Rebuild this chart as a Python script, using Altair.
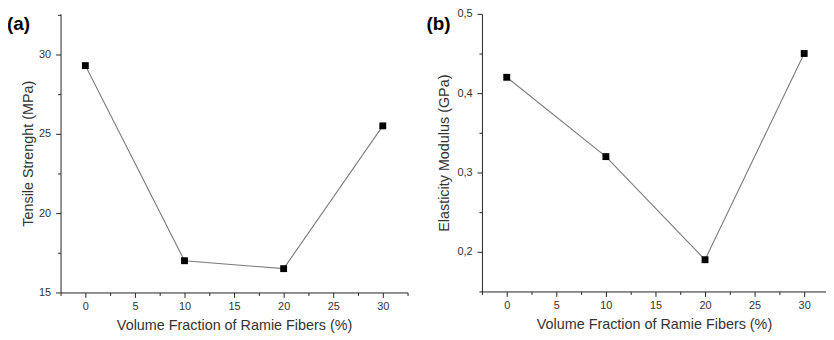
import altair as alt
import pandas as pd

fraction = [0, 10, 20, 30]
tensile = [29.3, 17.0, 16.5, 25.5]
modulus = [0.42, 0.32, 0.19, 0.45]

xa_tick_values = [-2.5, 0, 2.5, 5, 7.5, 10, 12.5, 15, 17.5, 20, 22.5, 25, 27.5, 30, 32.5]
xb_tick_values = [-2.5, 0, 2.5, 5, 7.5, 10, 12.5, 15, 17.5, 20, 22.5, 25, 27.5, 30]
ya_tick_values = [15, 17.5, 20, 22.5, 25, 27.5, 30, 32.5]
yb_tick_values = [0.15, 0.2, 0.25, 0.3, 0.35, 0.4, 0.45, 0.5]

df_a = pd.DataFrame({"f": fraction, "v": tensile})
df_b = pd.DataFrame({"f": fraction, "v": modulus})

FONT = "Liberation Sans"
XTITLE = "Volume Fraction of Ramie Fibers (%)"


def x_enc(domain, values):
    return alt.X(
        "f:Q",
        scale=alt.Scale(domain=domain, nice=False, zero=False),
        axis=alt.Axis(
            values=values,
            format="d",
            labelExpr="datum.value % 5 == 0 ? datum.label : ''",
            tickSize={"condition": {"test": "datum.value % 5 != 0", "value": 3}, "value": 5},
            title=XTITLE,
            labelPadding=3,
            titlePadding=7,
        ),
    )


def panel(df, xe, ye, tag, tx, ty, w, h):
    base = alt.Chart(df)
    line = base.mark_line(color="#7a7a7a", strokeWidth=1.1).encode(x=xe, y=ye)
    pts = base.mark_point(shape="square", filled=True, color="black", size=48, opacity=1).encode(
        x=xe, y=ye
    )
    label = alt.Chart(pd.DataFrame({"t": [tag]})).mark_text(
        fontSize=19, fontWeight="bold", font=FONT, align="left", baseline="middle", color="black"
    ).encode(text="t:N", x=alt.value(tx), y=alt.value(ty))
    return alt.layer(line, pts, label).properties(width=w, height=h)


ya = alt.Y(
    "v:Q",
    scale=alt.Scale(domain=[15, 32.5625], nice=False, zero=False),
    axis=alt.Axis(
        values=ya_tick_values,
        format="d",
        labelExpr="datum.value % 5 == 0 ? datum.label : ''",
        tickSize={"condition": {"test": "datum.value % 5 != 0", "value": 3}, "value": 5},
        title="Tensile Strenght (MPa)",
        labelPadding=5,
        titlePadding=3,
    ),
)

yb = alt.Y(
    "v:Q",
    scale=alt.Scale(domain=[0.15, 0.5], nice=False, zero=False),
    axis=alt.Axis(
        values=yb_tick_values,
        labelExpr="abs(datum.value*10 - round(datum.value*10)) < 0.001 ? replace(format(datum.value, '.1f'), '.', ',') : ''",
        tickSize={
            "condition": {"test": "abs(datum.value*10 - round(datum.value*10)) > 0.001", "value": 3},
            "value": 5,
        },
        title="Elasticity Modulus (GPa)",
        labelPadding=5,
        titlePadding=5,
    ),
)

pa = panel(df_a, x_enc([-2.5, 32.5], xa_tick_values), ya, "(a)", -54, 10, 350, 281)
pb = panel(df_b, x_enc([-2.5, 32.2], xb_tick_values), yb, "(b)", -56, 10, 347, 280)

chart = (
    alt.hconcat(pa, pb, spacing=18)
    .resolve_scale(y="independent", x="independent")
    .properties(padding={"top": -1.5, "left": -1, "right": 0, "bottom": 0})
    .configure_view(stroke=None)
    .configure_axis(
        grid=False,
        domainColor="#222",
        tickColor="#222",
        labelColor="#333",
        titleColor="#333",
        labelFont=FONT,
        titleFont=FONT,
        labelFontSize=11,
        titleFontSize=14.5,
        titleFontWeight="normal",
    )
)

chart.save("out.html", embed_options={"renderer": "svg", "actions": False})
